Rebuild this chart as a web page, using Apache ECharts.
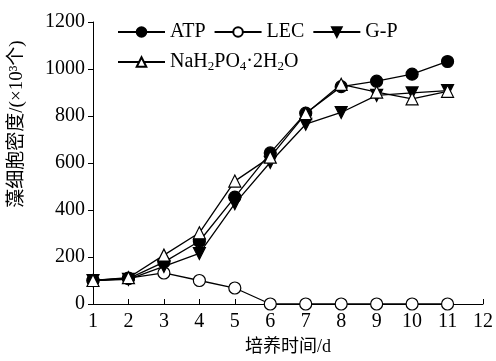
<!DOCTYPE html>
<html>
<head>
<meta charset="utf-8">
<script src="https://cdn.jsdelivr.net/npm/echarts@6/dist/echarts.min.js"></script>
<style>
  html, body { margin: 0; padding: 0; background: #fff; }
  #chart { width: 496px; height: 361px; }
</style>
</head>
<body>
<div id="chart"></div>
<script>
const days = [1, 2, 3, 4, 5, 6, 7, 8, 9, 10, 11]
const atp = [100, 108, 178, 267, 455, 643, 812, 925, 948, 978, 1032]
const lec = [100, 110, 132, 100, 68, 0, 0, 0, 0, 0, 0]
const gp = [100, 105, 160, 215, 427, 603, 765, 815, 888, 898, 908]
const nah = [100, 112, 208, 303, 523, 625, 810, 935, 902, 873, 905]
const NAH = 'NaH2PO4·2H2O'

const font = 'Liberation Serif, Times New Roman, Noto Sans CJK SC, serif'
const black = '#000'
const downTri = 'path://M0,0 L10,0 L5,9 Z'

const pts = vals => days.map((d, i) => [d, vals[i]])

function mkSeries(name, vals, symbol, fill, size) {
  return {
    name,
    type: 'line',
    data: pts(vals),
    symbol,
    symbolSize: size,
    lineStyle: { color: black, width: 1.3 },
    itemStyle: { color: fill, borderColor: black, borderWidth: 1.2 },
    emphasis: { disabled: true },
    animation: false
  }
}

const legendBase = {
  left: 112,
  itemWidth: 47,
  itemHeight: 12,
  itemGap: 8,
  textStyle: {
    fontFamily: font, fontSize: 20, color: black,
    rich: {
      n: { fontFamily: font, fontSize: 20, color: black },
      s: { fontFamily: font, fontSize: 13, color: black, padding: [10, 0, 0, 0] }
    }
  },
  formatter: name => name === NAH
    ? '{n|NaH}{s|2}{n|PO}{s|4}{n|·2H}{s|2}{n|O}'
    : name
}

const chart = echarts.init(document.getElementById('chart'), null, { renderer: 'canvas' })
chart.setOption({
  backgroundColor: '#fff',
  animation: false,
  grid: { left: 90, right: 12, top: 22, bottom: 55 },
  legend: [
    Object.assign({}, legendBase, { top: 17, data: ['ATP', 'LEC', 'G-P'] }),
    Object.assign({}, legendBase, { top: 47, data: [NAH] })
  ],
  xAxis: {
    type: 'value',
    min: 1,
    max: 12,
    interval: 1,
    name: '培养时间/d',
    nameLocation: 'middle',
    nameGap: 34,
    nameTextStyle: { fontFamily: font, fontSize: 18, color: black },
    axisLine: { lineStyle: { color: black, width: 1 } },
    axisTick: { inside: true, length: 5, lineStyle: { color: black } },
    axisLabel: { fontFamily: font, fontSize: 20, color: black, margin: 8 },
    splitLine: { show: false }
  },
  yAxis: {
    type: 'value',
    min: 0,
    max: 1200,
    interval: 200,
    name: '藻细胞密度/(×10³个)',
    nameLocation: 'middle',
    nameGap: 66,
    nameTextStyle: { fontFamily: font, fontSize: 19, color: black, padding: [0, 0, 0, 78] },
    axisLine: { show: true, lineStyle: { color: black, width: 1 } },
    axisTick: { show: true, length: 5, lineStyle: { color: black } },
    axisLabel: { fontFamily: font, fontSize: 20, color: black, margin: 8, formatter: v => String(v) },
    splitLine: { show: false }
  },
  series: [
    mkSeries('LEC', lec, 'circle', '#fff', 12),
    mkSeries('G-P', gp, downTri, black, 12),
    mkSeries('ATP', atp, 'circle', black, 12),
    mkSeries(NAH, nah, 'triangle', '#fff', 12)
  ]
})
</script>
</body>
</html>
